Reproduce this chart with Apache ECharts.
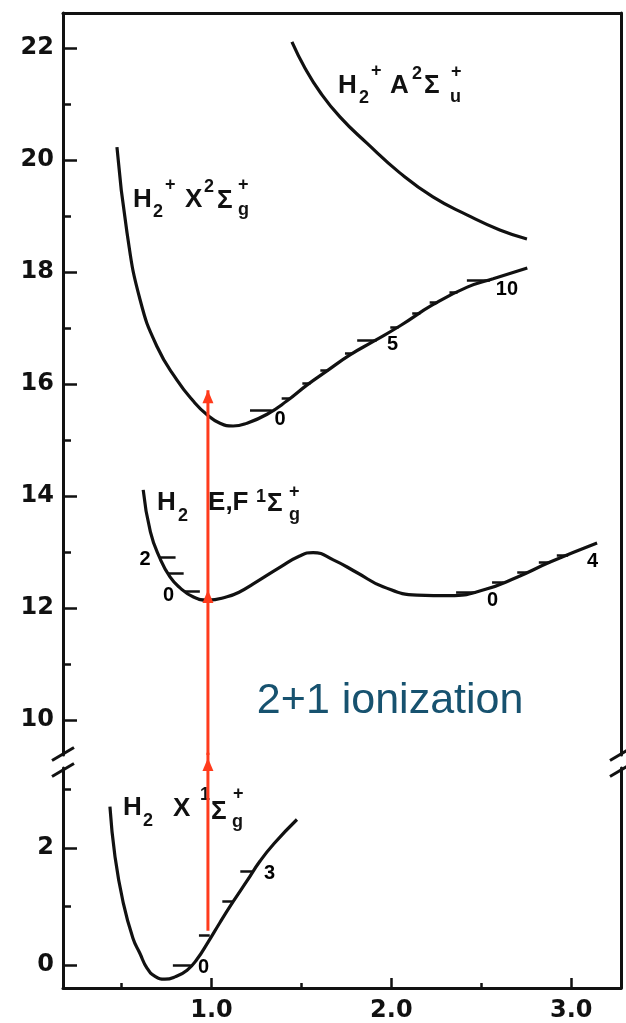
<!DOCTYPE html>
<html><head><meta charset="utf-8">
<script src="https://cdn.jsdelivr.net/npm/echarts@6/dist/echarts.min.js"></script>
<style>html,body{margin:0;padding:0;background:#fff}#c{width:626px;height:1023px}</style>
</head><body><div id="c"></div>
<script>
// ---------- data ----------
const xLabelValues = [1, 2, 3];
const xMinorValues = [0.5, 1.5, 2.5];
const upperYLabels = [10, 12, 14, 16, 18, 20, 22];
const upperYMinor = [11, 13, 15, 17, 19, 21];
const lowerYLabels = [0, 2];
const lowerYMinor = [1, 3];

// H2 X 1Sigma_g+ (ground state, lower panel)
const h2X1 = [[0.435,2.71],[0.463,1.86],[0.508,1.08],[0.563,0.46],[0.602,0.20],[0.641,-0.05],[0.686,-0.19],[0.741,-0.24],[0.797,-0.20],[0.864,-0.085],[0.919,0.10],[0.980,0.39],[1.047,0.73],[1.119,1.08],[1.197,1.44],[1.270,1.78],[1.348,2.08],[1.475,2.49]];
// H2 E,F 1Sigma_g+
const h2EF = [[0.620,14.11],[0.660,13.36],[0.714,12.88],[0.770,12.55],[0.825,12.36],[0.897,12.20],[0.980,12.14],[1.086,12.20],[1.158,12.29],[1.232,12.43],[1.382,12.73],[1.490,12.93],[1.565,12.99],[1.677,12.86],[1.810,12.63],[1.954,12.38],[2.143,12.23],[2.327,12.22],[2.510,12.32],[2.699,12.55],[2.883,12.82],[3.144,13.16]];
// H2+ X 2Sigma_g+
const h2pX2 = [[0.474,20.23],[0.530,18.70],[0.603,17.50],[0.698,16.66],[0.808,16.07],[0.897,15.70],[0.975,15.45],[1.047,15.30],[1.120,15.25],[1.197,15.30],[1.309,15.46],[1.420,15.70],[1.530,15.98],[1.640,16.23],[1.770,16.52],[1.900,16.76],[2.049,17.04],[2.233,17.42],[2.422,17.73],[2.566,17.88],[2.756,18.07]];
// H2+ A 2Sigma_u+
const h2pA2 = [[1.447,22.11],[1.520,21.64],[1.604,21.21],[1.714,20.77],[1.864,20.30],[2.047,19.77],[2.231,19.34],[2.420,19.02],[2.603,18.75],[2.754,18.59]];

// vibrational level stubs: [xStart, xEnd, energy]
const levelsX2 = [[1.214,1.335,15.54],[1.39,1.435,15.75],[1.505,1.550,16.02],[1.605,1.650,16.25],[1.742,1.787,16.55],[1.81,1.918,16.79],[1.994,2.04,17.02],[2.116,2.161,17.27],[2.213,2.258,17.46],[2.323,2.368,17.64],[2.42,2.548,17.86]];
const levelsEF = [[0.715,0.800,12.91],[0.757,0.845,12.62],[0.852,0.935,12.30],[2.36,2.47,12.29],[2.56,2.625,12.46],[2.70,2.76,12.64],[2.82,2.883,12.82],[2.92,2.983,12.95]];
const levelsX1 = [[0.785,0.885,0.0],[0.93,0.99,0.51],[1.06,1.12,1.10],[1.16,1.225,1.61]];

// vibrational quantum number labels: [x, energy, text]
const levelLabelsUpper = [[1.381,15.36,'0'],[2.006,16.70,'5'],[2.643,17.68,'10'],[0.630,12.87,'2'],[0.761,12.23,'0'],[2.563,12.13,'0'],[3.119,12.83,'4']];
const levelLabelsLower = [[0.955,-0.04,'0'],[1.322,1.57,'3']];

// 2+1 ionization arrow
const arrowX = 0.98;
const arrowLower = [0.59, 3.63];
const arrowUpper = [9.375, 15.89];
const arrowTipsLower = [3.54];
const arrowTipsUpper = [12.32, 15.89];

// ---------- layout / style ----------
const X_MIN = 0.174, X_MAX = 3.277;
const UP = {min: 9.375, max: 22.625};
const LO = {min: -0.39, max: 3.37};
const INK = '#111';
const RED = '#ff3b1c';
const tickFont = {fontFamily: 'DejaVu Sans', fontWeight: 'bold', fontSize: 24, color: INK};

const chart = echarts.init(document.getElementById('c'));

function lineS(data, xi, yi) {
  return {type: 'line', xAxisIndex: xi, yAxisIndex: yi, data: data, smooth: 0.5,
    showSymbol: false, symbol: 'none', lineStyle: {color: INK, width: 3.2}, z: 3, silent: true, animation: false};
}
function stubS(levels, xi, yi) {
  return {type: 'lines', coordinateSystem: 'cartesian2d', xAxisIndex: xi, yAxisIndex: yi,
    data: levels.map(l => ({coords: [[l[0], l[2]], [l[1], l[2]]]})),
    lineStyle: {color: INK, width: 2.5, opacity: 1}, z: 3, silent: true, animation: false};
}
function numS(labels, xi, yi) {
  return {type: 'scatter', xAxisIndex: xi, yAxisIndex: yi, data: labels, symbolSize: 1,
    itemStyle: {color: 'rgba(0,0,0,0)', opacity: 1}, silent: true, animation: false, z: 4,
    label: {show: true, position: 'inside', formatter: p => p.value[2], opacity: 1,
      fontFamily: 'Liberation Sans', fontWeight: 'bold', fontSize: 20, color: '#000'}};
}
function arrowLine(range, xi, yi) {
  return {type: 'line', xAxisIndex: xi, yAxisIndex: yi, data: range.map(v => [arrowX, v]),
    symbol: 'none', showSymbol: false, clip: false, lineStyle: {color: RED, width: 3}, z: 10, silent: true, animation: false};
}
function arrowHeads(tips, xi, yi) {
  return {type: 'scatter', xAxisIndex: xi, yAxisIndex: yi, data: tips.map(v => [arrowX, v]),
    symbol: 'triangle', symbolSize: [11, 13], symbolOffset: [0, 6.5], clip: false,
    itemStyle: {color: RED, opacity: 1}, z: 11, silent: true, animation: false};
}

const noLine = {show: false, onZero: false};
const axLine = {show: true, onZero: false, lineStyle: {color: INK, width: 3}};

chart.setOption({
  animation: false,
  grid: [
    {left: 63, right: 5, top: 13, height: 742},
    {left: 63, right: 5, top: 768, height: 222}
  ],
  xAxis: [
    {type: 'value', gridIndex: 0, position: 'top', min: X_MIN, max: X_MAX, axisLine: axLine,
      axisTick: {show: false}, axisLabel: {show: false}, splitLine: {show: false}},
    {type: 'value', gridIndex: 1, position: 'bottom', min: X_MIN, max: X_MAX, axisLine: axLine,
      axisTick: {show: true, inside: true, length: 10, customValues: xLabelValues, lineStyle: {color: INK, width: 2.5}},
      axisLabel: Object.assign({show: true, customValues: xLabelValues, margin: 11, formatter: v => Number(v).toFixed(1)}, tickFont),
      splitLine: {show: false}},
    {type: 'value', gridIndex: 1, position: 'bottom', min: X_MIN, max: X_MAX, axisLine: noLine,
      axisTick: {show: true, inside: true, length: 5, customValues: xMinorValues, lineStyle: {color: INK, width: 2.5}},
      axisLabel: {show: false}, splitLine: {show: false}}
  ],
  yAxis: [
    {type: 'value', gridIndex: 0, position: 'left', min: UP.min, max: UP.max, axisLine: axLine,
      axisTick: {show: true, inside: true, length: 14, customValues: upperYLabels, lineStyle: {color: INK, width: 2.5}},
      axisLabel: Object.assign({show: true, customValues: upperYLabels, margin: 9}, tickFont),
      splitLine: {show: false}},
    {type: 'value', gridIndex: 0, position: 'left', min: UP.min, max: UP.max, axisLine: noLine,
      axisTick: {show: true, inside: true, length: 8, customValues: upperYMinor, lineStyle: {color: INK, width: 2.5}},
      axisLabel: {show: false}, splitLine: {show: false}},
    {type: 'value', gridIndex: 0, position: 'right', min: UP.min, max: UP.max, axisLine: axLine,
      axisTick: {show: false}, axisLabel: {show: false}, splitLine: {show: false}},
    {type: 'value', gridIndex: 1, position: 'left', min: LO.min, max: LO.max, axisLine: axLine,
      axisTick: {show: true, inside: true, length: 14, customValues: lowerYLabels, lineStyle: {color: INK, width: 2.5}},
      axisLabel: Object.assign({show: true, customValues: lowerYLabels, margin: 9}, tickFont),
      splitLine: {show: false}},
    {type: 'value', gridIndex: 1, position: 'left', min: LO.min, max: LO.max, axisLine: noLine,
      axisTick: {show: true, inside: true, length: 8, customValues: lowerYMinor, lineStyle: {color: INK, width: 2.5}},
      axisLabel: {show: false}, splitLine: {show: false}},
    {type: 'value', gridIndex: 1, position: 'right', min: LO.min, max: LO.max, axisLine: axLine,
      axisTick: {show: false}, axisLabel: {show: false}, splitLine: {show: false}}
  ],
  series: [
    lineS(h2pA2, 0, 0),
    lineS(h2pX2, 0, 0),
    lineS(h2EF, 0, 0),
    stubS(levelsX2, 0, 0),
    stubS(levelsEF, 0, 0),
    numS(levelLabelsUpper, 0, 0),
    lineS(h2X1, 1, 3),
    stubS(levelsX1, 1, 3),
    numS(levelLabelsLower, 1, 3),
    arrowLine(arrowUpper, 0, 0),
    arrowHeads(arrowTipsUpper, 0, 0),
    arrowLine(arrowLower, 1, 3),
    arrowHeads(arrowTipsLower, 1, 3)
  ]
});

// ---------- annotations (state labels), anchored in data coordinates ----------
const MAIN = 'bold 26px "Liberation Sans"';
const SMALL = 'bold 18px "Liberation Sans"';
// pieces: [text, dx, dy, font]  (dx from left of first letter, dy from its cap centre)
const stateLabels = [
  {grid: 0, at: [1.703, 21.32], pieces: [['H',0,0,MAIN],['2',21,12,SMALL],['+',33,-15,SMALL],['A',52,0,MAIN],['2',74,-12,SMALL],['Σ',86,0,MAIN],['u',112,11,SMALL],['+',113,-14,SMALL]]},
  {grid: 0, at: [0.563, 19.29], pieces: [['H',0,0,MAIN],['2',20,12,SMALL],['+',32,-15,SMALL],['X',52,0,MAIN],['2',71,-13,SMALL],['Σ',84,1,MAIN],['g',105,10,SMALL],['+',105,-15,SMALL]]},
  {grid: 0, at: [0.697, 13.875], pieces: [['H',0,0,MAIN],['2',21,13,SMALL],['E,F',51,0,MAIN],['1',99,-6,SMALL],['Σ',110,1,MAIN],['g',132,12,SMALL],['+',132,-11,SMALL]]},
  {grid: 1, at: [0.508, 2.685], pieces: [['H',0,0,MAIN],['2',20,13,SMALL],['X',50,1,MAIN],['1',77,-13,SMALL],['Σ',88,4,MAIN],['g',109,14,SMALL],['+',110,-14,SMALL]]}
];
const noteText = {grid: 0, at: [1.252, 10.34], text: '2+1 ionization'};

function px(grid, p) {
  return chart.convertToPixel(grid === 0 ? {xAxisIndex: 0, yAxisIndex: 0} : {xAxisIndex: 1, yAxisIndex: 3}, p);
}
const els = [];
stateLabels.forEach(lb => {
  const o = px(lb.grid, lb.at);
  lb.pieces.forEach(pc => {
    els.push({type: 'text', x: o[0] + pc[1], y: o[1] + pc[2], z: 5, silent: true,
      style: {text: pc[0], font: pc[3], fill: INK, textAlign: 'left', textVerticalAlign: 'middle', align: 'left', verticalAlign: 'middle'}});
  });
});
(function () {
  const o = px(noteText.grid, noteText.at);
  els.push({type: 'text', x: o[0], y: o[1], z: 5, silent: true,
    style: {text: noteText.text, font: '43px "Liberation Sans"', fill: '#17526f', textAlign: 'left', textVerticalAlign: 'middle', align: 'left', verticalAlign: 'middle'}});
})();

// axis-break marks
const upBottom = px(0, [X_MIN, UP.min]);
const upBottomR = px(0, [X_MAX, UP.min]);
const loTop = px(1, [X_MIN, LO.max]);
const loTopR = px(1, [X_MAX, LO.max]);
[[upBottom, -1], [loTop, 2], [upBottomR, -1], [loTopR, 2]].forEach(([p, dy]) => {
  els.push({type: 'line', z: 6, silent: true,
    shape: {x1: p[0] - 11, y1: p[1] + dy + 6.5, x2: p[0] + 11, y2: p[1] + dy - 6.5},
    style: {stroke: INK, lineWidth: 3}});
});
chart.setOption({graphic: {elements: els}});
</script>
</body></html>
